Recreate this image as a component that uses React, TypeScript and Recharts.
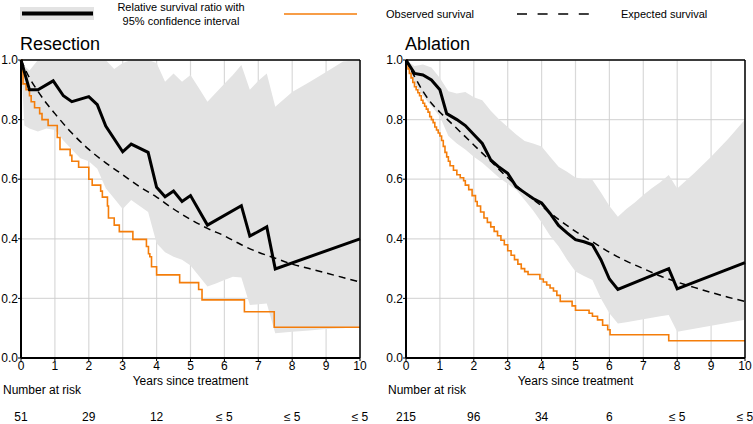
import React from "react";
import { ComposedChart, Area, Line, XAxis, YAxis, CartesianGrid } from "recharts";

// axis ticks
const yearTicks = [0, 1, 2, 3, 4, 5, 6, 7, 8, 9, 10];
const survivalTicks = [0, 0.2, 0.4, 0.6, 0.8, 1.0];
const riskYears = [0, 2, 4, 6, 8, 10];

const legendLabels = ["Relative survival ratio with", "95% confidence interval", "Observed survival", "Expected survival"];

// ---- Resection ----
const resCiTimes = [0, 0.1, 0.25, 0.5, 0.75, 1, 1.25, 1.5, 1.75, 2, 2.25, 2.5, 2.75, 3, 3.25, 3.5, 3.75, 4, 4.25, 4.5, 4.75, 5, 5.25, 5.5, 5.75, 6, 6.25, 6.5, 6.75, 7, 7.25, 7.5, 8, 8.5, 9, 9.5, 10];
const resCiLow = [1.0, 0.78, 0.77, 0.76, 0.77, 0.765, 0.73, 0.7, 0.67, 0.66, 0.635, 0.57, 0.535, 0.5, 0.53, 0.51, 0.49, 0.385, 0.355, 0.34, 0.33, 0.31, 0.275, 0.24, 0.25, 0.262, 0.273, 0.27, 0.178, 0.18, 0.183, 0.083, 0.088, 0.092, 0.097, 0.1, 0.105];
const resCiHigh = [1.0, 0.98, 0.965, 1.0, 1.0, 1.0, 1.0, 1.0, 1.0, 1.0, 1.0, 1.0, 0.97, 0.99, 1.0, 1.0, 1.0, 0.99, 0.927, 0.955, 0.927, 0.95, 0.905, 0.86, 0.89, 0.92, 0.95, 0.983, 0.9, 0.93, 0.955, 0.843, 0.893, 0.925, 0.96, 0.995, 1.0];

const resRelTimes = [0, 0.25, 0.5, 0.95, 1.25, 1.5, 2.0, 2.25, 2.5, 3.0, 3.25, 3.75, 4.0, 4.25, 4.5, 4.75, 5.0, 5.5, 6.5, 6.75, 7.25, 7.5, 10];
const resRel = [1.0, 0.9, 0.9, 0.93, 0.88, 0.86, 0.877, 0.85, 0.778, 0.692, 0.718, 0.69, 0.573, 0.541, 0.56, 0.525, 0.545, 0.446, 0.511, 0.409, 0.44, 0.299, 0.4];

const resObsTimes = [0, 0.03, 0.06, 0.15, 0.25, 0.3, 0.4, 0.55, 0.62, 0.8, 1.07, 1.15, 1.45, 1.5, 1.7, 2.0, 2.1, 2.35, 2.4, 2.55, 2.58, 2.75, 2.9, 3.3, 3.7, 3.76, 3.8, 3.85, 4.0, 4.68, 5.24, 5.34, 6.59, 7.47, 10];
const resObs = [1.0, 0.96, 0.92, 0.9, 0.88, 0.86, 0.84, 0.82, 0.8, 0.78, 0.74, 0.7, 0.68, 0.66, 0.64, 0.6, 0.58, 0.56, 0.54, 0.51, 0.47, 0.446, 0.424, 0.398, 0.374, 0.35, 0.34, 0.306, 0.279, 0.253, 0.23, 0.195, 0.155, 0.103, 0.103];

const resExpTimes = [0, 0.25, 0.5, 0.75, 1, 1.5, 2, 2.5, 3, 3.5, 4, 4.5, 5, 5.5, 6, 6.5, 7, 7.5, 8, 8.5, 9, 9.5, 10];
const resExp = [1.0, 0.94, 0.895, 0.855, 0.82, 0.755, 0.7, 0.655, 0.615, 0.575, 0.54, 0.5, 0.465, 0.435, 0.41, 0.38, 0.355, 0.335, 0.315, 0.3, 0.285, 0.27, 0.255];

const resRisk = ["51", "29", "12", "\u2264 5", "\u2264 5", "\u2264 5"];

// ---- Ablation ----
const ablCiTimes = [0, 0.25, 0.5, 0.75, 1, 1.25, 1.5, 1.75, 2, 2.25, 2.5, 2.75, 3, 3.25, 3.5, 3.75, 4, 4.25, 4.5, 4.75, 5, 5.25, 5.5, 5.75, 6, 6.25, 6.5, 6.75, 7, 7.25, 7.5, 7.75, 8, 8.5, 9, 9.5, 10];
const ablCiLow = [1.0, 0.92, 0.88, 0.845, 0.81, 0.745, 0.72, 0.7, 0.675, 0.655, 0.63, 0.605, 0.585, 0.565, 0.53, 0.495, 0.455, 0.41, 0.375, 0.33, 0.29, 0.275, 0.262, 0.2, 0.15, 0.116, 0.12, 0.125, 0.13, 0.135, 0.14, 0.144, 0.088, 0.098, 0.108, 0.118, 0.128];
const ablCiHigh = [1.0, 0.98, 0.985, 0.975, 0.94, 0.895, 0.888, 0.893, 0.875, 0.865, 0.83, 0.8, 0.775, 0.75, 0.728, 0.72, 0.71, 0.675, 0.642, 0.625, 0.606, 0.6, 0.597, 0.555, 0.51, 0.474, 0.5, 0.522, 0.547, 0.57, 0.59, 0.614, 0.569, 0.62, 0.675, 0.735, 0.8];

const ablRelTimes = [0, 0.25, 0.5, 0.75, 1, 1.2, 1.5, 1.75, 2, 2.25, 2.5, 2.75, 3, 3.25, 3.5, 3.75, 4, 4.25, 4.5, 4.75, 5, 5.25, 5.5, 5.75, 6, 6.25, 7.75, 8, 10];
const ablRel = [1.0, 0.955, 0.95, 0.933, 0.9, 0.82, 0.8, 0.78, 0.75, 0.72, 0.665, 0.64, 0.62, 0.575, 0.555, 0.535, 0.52, 0.485, 0.445, 0.42, 0.397, 0.39, 0.38, 0.33, 0.265, 0.23, 0.3, 0.232, 0.32];

const ablObsTimes = [0, 0.03, 0.06, 0.1, 0.15, 0.2, 0.25, 0.3, 0.35, 0.4, 0.45, 0.5, 0.55, 0.6, 0.65, 0.7, 0.75, 0.8, 0.85, 0.9, 0.95, 1.0, 1.05, 1.1, 1.15, 1.2, 1.25, 1.3, 1.4, 1.5, 1.6, 1.7, 1.75, 1.85, 1.95, 2.05, 2.1, 2.2, 2.3, 2.4, 2.5, 2.6, 2.7, 2.8, 2.9, 3.0, 3.1, 3.2, 3.3, 3.4, 3.5, 3.6, 3.95, 4.05, 4.15, 4.25, 4.35, 4.45, 4.55, 4.9, 5.0, 5.4, 5.5, 5.65, 5.8, 5.95, 6.02, 7.75, 10];
const ablObs = [1.0, 0.985, 0.97, 0.955, 0.94, 0.925, 0.91, 0.9, 0.89, 0.88, 0.865, 0.855, 0.845, 0.835, 0.825, 0.81, 0.8, 0.79, 0.775, 0.765, 0.755, 0.745, 0.73, 0.71, 0.69, 0.675, 0.66, 0.645, 0.63, 0.615, 0.605, 0.595, 0.58, 0.565, 0.545, 0.525, 0.51, 0.49, 0.47, 0.455, 0.44, 0.425, 0.41, 0.395, 0.38, 0.36, 0.345, 0.33, 0.315, 0.3, 0.29, 0.28, 0.265, 0.255, 0.245, 0.235, 0.225, 0.21, 0.19, 0.175, 0.16, 0.15, 0.14, 0.128, 0.11, 0.095, 0.078, 0.058, 0.058];

const ablExpTimes = [0, 0.25, 0.5, 0.75, 1, 1.5, 2, 2.5, 3, 3.5, 4, 4.5, 5, 5.5, 6, 6.5, 7, 7.5, 8, 8.5, 9, 9.5, 10];
const ablExp = [1.0, 0.945, 0.895, 0.855, 0.825, 0.77, 0.715, 0.66, 0.605, 0.555, 0.51, 0.465, 0.425, 0.39, 0.355, 0.325, 0.3, 0.275, 0.255, 0.237, 0.22, 0.204, 0.19];

const ablRisk = ["215", "96", "34", "6", "\u2264 5", "\u2264 5"];

const FONT = "'Liberation Sans', Arial, sans-serif";
const ORANGE = "#f47d0a";

const pts = (t: number[], s: number[]) => t.map((x, i) => ({ t: x, s: s[i] }));
const band = (t: number[], lo: number[], hi: number[]) => t.map((x, i) => ({ t: x, range: [lo[i], hi[i]] }));

// year label on the axis, plus the number at risk further down for the even years
function YearTick(props: any) {
  const { x, y, payload, risk } = props;
  const i = riskYears.indexOf(payload.value);
  return (
    <g>
      <text x={x} y={y} dy="0.71em" textAnchor="middle" fontSize={12} fontFamily={FONT} fill="#000">
        {payload.value}
      </text>
      {i >= 0 && (
        <text x={x} y={y + 60} textAnchor="middle" fontSize={12} fontFamily={FONT} fill="#000">
          {risk[i]}
        </text>
      )}
    </g>
  );
}

type PanelProps = {
  title: string;
  left: number;
  width: number;
  marginRight: number;
  ci: { t: number; range: number[] }[];
  rel: { t: number; s: number }[];
  obs: { t: number; s: number }[];
  exp: { t: number; s: number }[];
  risk: string[];
};

function Panel({ title, left, width, marginRight, ci, rel, obs, exp, risk }: PanelProps) {
  const tickStyle = { fontSize: 12, fill: "#000", fontFamily: FONT };
  return (
    <div style={{ position: "absolute", left, top: 0, width, height: 424 }}>
      <div style={{ position: "absolute", left: 20, top: 33, fontSize: 18, fontFamily: FONT, color: "#000", lineHeight: "22px" }}>
        {title}
      </div>
      <div style={{ position: "absolute", left: 3, top: 383, fontSize: 12, fontFamily: FONT, color: "#000", lineHeight: "14px" }}>
        Number at risk
      </div>
      <ComposedChart width={width} height={424} margin={{ top: 59, right: marginRight, bottom: 36, left: 0 }} style={{ overflow: "visible" }}>
        <Area
          data={ci}
          dataKey="range"
          type="linear"
          stroke="none"
          fill="#e3e3e3"
          fillOpacity={1}
          isAnimationActive={false}
          activeDot={false}
        />
        <CartesianGrid stroke="#d0d0d0" strokeOpacity={0.8} strokeWidth={1.2} />
        <XAxis
          dataKey="t"
          type="number"
          domain={[0, 10]}
          ticks={yearTicks}
          height={30}
          tick={<YearTick risk={risk} />}
          tickSize={3}
          tickMargin={0}
          tickLine={{ stroke: "#000" }}
          axisLine={{ stroke: "#000", strokeWidth: 2 }}
          label={{ value: "Years since treatment", position: "insideBottom", offset: 3, style: tickStyle }}
        />
        <XAxis
          xAxisId="top"
          orientation="top"
          dataKey="t"
          type="number"
          domain={[0, 10]}
          ticks={yearTicks}
          height={1}
          tickSize={3}
          tickLine={{ stroke: "#000" }}
          axisLine={{ stroke: "#000", strokeWidth: 1.5 }}
          tickFormatter={() => ""}
        />
        <YAxis
          type="number"
          domain={[0, 1]}
          ticks={survivalTicks}
          width={21}
          tick={tickStyle}
          tickSize={3}
          tickMargin={0}
          tickLine={{ stroke: "#000" }}
          axisLine={{ stroke: "#000", strokeWidth: 2 }}
          tickFormatter={(v: number) => v.toFixed(1)}
        />
        <YAxis
          yAxisId="right"
          orientation="right"
          type="number"
          domain={[0, 1]}
          ticks={survivalTicks}
          width={1}
          tickSize={3}
          tickLine={{ stroke: "#000" }}
          axisLine={{ stroke: "#000", strokeWidth: 1.5 }}
          tickFormatter={() => ""}
        />
        <Line data={obs} dataKey="s" type="stepAfter" stroke={ORANGE} strokeWidth={1.6} dot={false} activeDot={false} isAnimationActive={false} />
        <Line data={exp} dataKey="s" type="monotone" stroke="#000" strokeWidth={1.5} strokeDasharray="7 5" dot={false} activeDot={false} isAnimationActive={false} />
        <Line data={rel} dataKey="s" type="linear" stroke="#000" strokeWidth={3} dot={false} activeDot={false} isAnimationActive={false} />
      </ComposedChart>
    </div>
  );
}

function Legend() {
  const txt = { fontSize: 11, fontFamily: FONT, fill: "#000" };
  return (
    <svg width={753} height={30} style={{ position: "absolute", left: 0, top: 0 }}>
      <rect x={20} y={7} width={74} height={13} fill="#e3e3e3" />
      <line x1={22} x2={93} y1={13.5} y2={13.5} stroke="#000" strokeWidth={4} />
      <text x={181} y={11} textAnchor="middle" {...txt}>{legendLabels[0]}</text>
      <text x={181} y={25} textAnchor="middle" {...txt}>{legendLabels[1]}</text>
      <line x1={284} x2={357} y1={14} y2={14} stroke={ORANGE} strokeWidth={1.6} />
      <text x={386} y={18} {...txt}>{legendLabels[2]}</text>
      <line x1={517} x2={589} y1={14} y2={14} stroke="#000" strokeWidth={1.6} strokeDasharray="10 10.6" />
      <text x={621} y={18} {...txt}>{legendLabels[3]}</text>
    </svg>
  );
}

export default function App() {
  return (
    <div style={{ position: "absolute", left: 0, top: 0, width: 753, height: 424, background: "#fff", overflow: "hidden" }}>
      <Legend />
      <Panel
        title="Resection"
        left={0}
        width={376}
        marginRight={15}
        ci={band(resCiTimes, resCiLow, resCiHigh)}
        rel={pts(resRelTimes, resRel)}
        obs={pts(resObsTimes, resObs)}
        exp={pts(resExpTimes, resExp)}
        risk={resRisk}
      />
      <Panel
        title="Ablation"
        left={385}
        width={368}
        marginRight={7}
        ci={band(ablCiTimes, ablCiLow, ablCiHigh)}
        rel={pts(ablRelTimes, ablRel)}
        obs={pts(ablObsTimes, ablObs)}
        exp={pts(ablExpTimes, ablExp)}
        risk={ablRisk}
      />
    </div>
  );
}
